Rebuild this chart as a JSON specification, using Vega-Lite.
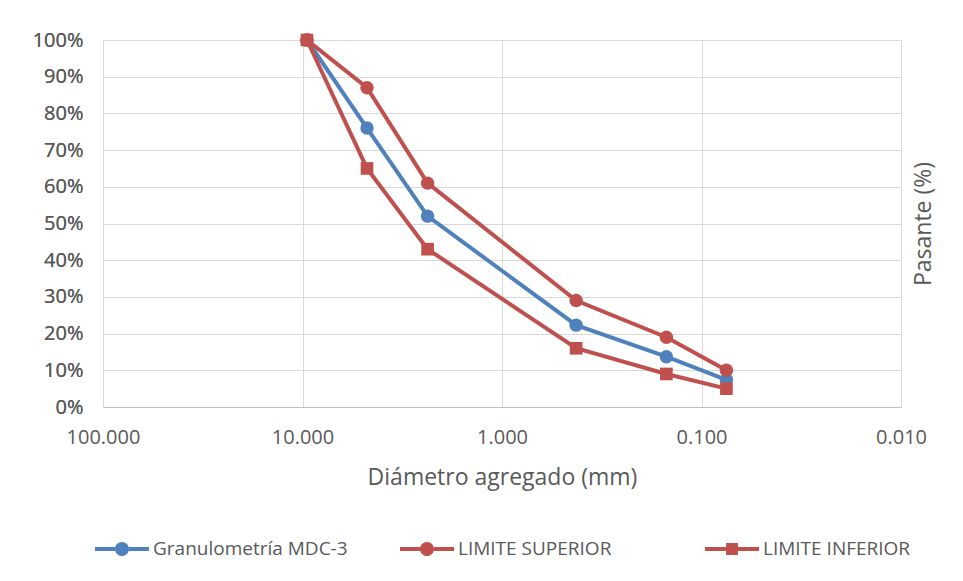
{
  "$schema": "https://vega.github.io/schema/vega-lite/v6.json",
  "autosize": "none",
  "width": 798,
  "height": 367,
  "padding": {"left": 103, "top": 40, "right": 62, "bottom": 174},
  "background": "white",
  "config": {
    "font": "Open Sans",
    "view": {"stroke": null},
    "axis": {"labelColor": "#595959", "titleColor": "#595959", "gridColor": "#d9d9d9", "gridWidth": 1, "titleFontWeight": "normal"}
  },
  "data": {
    "values": [
      {"d": 9.5, "p": 1.0, "s": "Granulometría MDC-3"},
      {"d": 4.75, "p": 0.76, "s": "Granulometría MDC-3"},
      {"d": 2.36, "p": 0.52, "s": "Granulometría MDC-3"},
      {"d": 0.425, "p": 0.223, "s": "Granulometría MDC-3"},
      {"d": 0.15, "p": 0.137, "s": "Granulometría MDC-3"},
      {"d": 0.075, "p": 0.074, "s": "Granulometría MDC-3"},
      {"d": 9.5, "p": 1.0, "s": "LIMITE SUPERIOR"},
      {"d": 4.75, "p": 0.87, "s": "LIMITE SUPERIOR"},
      {"d": 2.36, "p": 0.61, "s": "LIMITE SUPERIOR"},
      {"d": 0.425, "p": 0.29, "s": "LIMITE SUPERIOR"},
      {"d": 0.15, "p": 0.19, "s": "LIMITE SUPERIOR"},
      {"d": 0.075, "p": 0.10, "s": "LIMITE SUPERIOR"},
      {"d": 9.5, "p": 1.0, "s": "LIMITE INFERIOR"},
      {"d": 4.75, "p": 0.65, "s": "LIMITE INFERIOR"},
      {"d": 2.36, "p": 0.43, "s": "LIMITE INFERIOR"},
      {"d": 0.425, "p": 0.16, "s": "LIMITE INFERIOR"},
      {"d": 0.15, "p": 0.09, "s": "LIMITE INFERIOR"},
      {"d": 0.075, "p": 0.05, "s": "LIMITE INFERIOR"}
    ]
  },
  "encoding": {
    "x": {
      "field": "d", "type": "quantitative",
      "scale": {"type": "log", "domain": [0.01, 100], "reverse": true, "nice": false},
      "axis": {
        "values": [100, 10, 1, 0.1, 0.01], "format": ".3f",
        "title": "Diámetro agregado (mm)", "titleFontSize": 23, "titlePadding": 19,
        "labelFontSize": 20, "labelPadding": 20, "ticks": false,
        "labelOverlap": false, "labelFlush": false, "labelBound": false,
        "domainColor": "#bfbfbf", "domainWidth": 1, "grid": true
      }
    },
    "y": {
      "field": "p", "type": "quantitative",
      "scale": {"domain": [0, 1], "nice": false},
      "axis": {
        "values": [0, 0.1, 0.2, 0.3, 0.4, 0.5, 0.6, 0.7, 0.8, 0.9, 1.0], "format": ".0%",
        "title": null, "labelFontSize": 20, "labelPadding": 20, "ticks": false, "domain": false, "grid": true
      }
    },
    "color": {
      "field": "s", "type": "nominal",
      "scale": {"domain": ["Granulometría MDC-3", "LIMITE SUPERIOR", "LIMITE INFERIOR"], "range": ["#4F81BD", "#C0504D", "#C0504D"]},
      "legend": {
        "orient": "none", "legendX": -8, "legendY": 482, "direction": "horizontal", "title": null,
        "labelFontSize": 19, "labelColor": "#595959", "labelLimit": 0, "gridAlign": "all", "columnPadding": 52, "symbolSize": 2916, "labelOffset": 4,
        "encode": {
          "symbols": {
            "update": {
              "shape": {"signal": "datum.value === 'LIMITE INFERIOR' ? 'M-1,-0.07H-0.22V0.07H-1Z M0.22,-0.07H1V0.07H0.22Z M-0.22,-0.22H0.22V0.22H-0.22Z' : 'M-1,-0.07H-0.26V0.07H-1Z M0.26,-0.07H1V0.07H0.26Z M-0.26,0A0.26,0.26 0 1,1 0.26,0A0.26,0.26 0 1,1 -0.26,0Z'"},
              "fill": {"scale": "color", "field": "value"},
              "stroke": {"value": "transparent"},
              "strokeWidth": {"value": 0},
              "opacity": {"value": 1}
            }
          }
        }
      }
    }
  },
  "layer": [
    {
      "mark": {"type": "line", "strokeWidth": 4},
      "encoding": {"detail": {"field": "s"}}
    },
    {
      "transform": [{"filter": "datum.s !== 'LIMITE INFERIOR'"}],
      "mark": {"type": "point", "filled": true, "opacity": 1, "size": 180, "shape": "circle"},
      "encoding": {
        "y": {
          "field": "p", "type": "quantitative",
          "axis": {"orient": "right", "title": "Pasante (%)", "titleFontSize": 23, "titleAngle": 270, "titlePadding": 34, "labels": false, "ticks": false, "domain": false, "grid": false}
        }
      }
    },
    {
      "transform": [{"filter": "datum.s === 'LIMITE INFERIOR'"}],
      "mark": {"type": "point", "filled": true, "opacity": 1, "size": 160, "shape": "square"}
    }
  ],
  "resolve": {"axis": {"y": "independent"}}
}
